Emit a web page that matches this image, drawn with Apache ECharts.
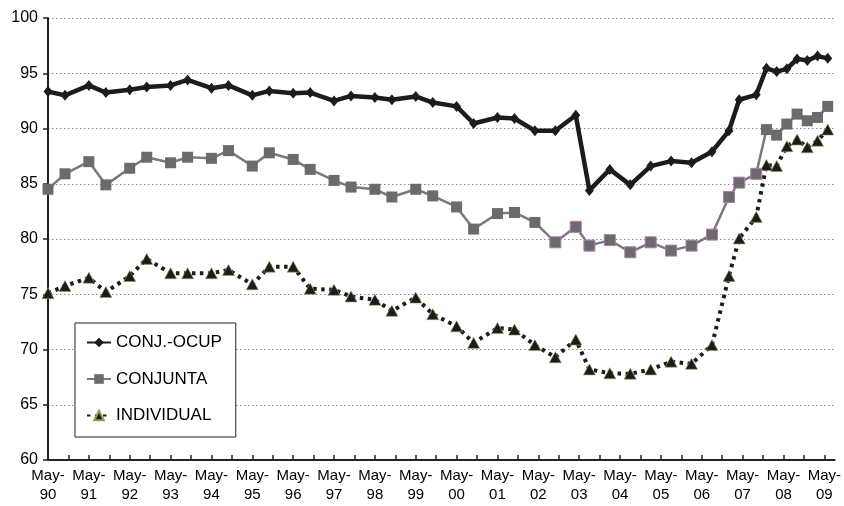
<!DOCTYPE html>
<html>
<head>
<meta charset="utf-8">
<script src="https://cdn.jsdelivr.net/npm/echarts@6/dist/echarts.min.js"></script>
<style>
  html, body { margin: 0; padding: 0; background: #fff; }
  #main { width: 844px; height: 506px; }
</style>
</head>
<body>
<div id="main"></div>
<script>
// observation dates (year-month)
var dates = [
    '1990-05', '1990-10', '1991-05', '1991-10', '1992-05', '1992-10', '1993-05', '1993-10',
    '1994-05', '1994-10', '1995-05', '1995-10', '1996-05', '1996-10', '1997-05', '1997-10',
    '1998-05', '1998-10', '1999-05', '1999-10', '2000-05', '2000-10', '2001-05', '2001-10',
    '2002-04', '2002-10', '2003-04', '2003-08', '2004-02', '2004-08', '2005-02', '2005-08',
    '2006-02', '2006-08', '2007-01', '2007-04', '2007-09', '2007-12', '2008-03', '2008-06',
    '2008-09', '2008-12', '2009-03', '2009-06'
];

var conjOcup = [
    93.35, 93.0, 93.9, 93.25, 93.5, 93.75, 93.9, 94.4, 93.65, 93.9, 93.0, 93.4, 93.2, 93.25,
    92.5, 92.95, 92.8, 92.6, 92.9, 92.35, 92.0, 90.45, 91.0, 90.9, 89.8, 89.8, 91.2, 84.4,
    86.3, 84.9, 86.6, 87.05, 86.9, 87.9, 89.8, 92.6, 93.05, 95.45, 95.15, 95.4, 96.3, 96.15,
    96.55, 96.35
];

var conjunta = [
    84.5, 85.9, 87.0, 84.9, 86.4, 87.4, 86.9, 87.4, 87.3, 88.0, 86.6, 87.8, 87.2, 86.3,
    85.3, 84.7, 84.5, 83.8, 84.5, 83.9, 82.9, 80.9, 82.3, 82.4, 81.5, 79.7, 81.1, 79.4,
    79.9, 78.8, 79.7, 78.95, 79.4, 80.4, 83.8, 85.1, 85.9, 89.9, 89.4, 90.4, 91.3, 90.7,
    91.0, 92.0
];

var individual = [
    75.1, 75.75, 76.5, 75.2, 76.65, 78.2, 76.9, 76.9, 76.9, 77.2, 75.9, 77.5, 77.5, 75.5,
    75.4, 74.8, 74.5, 73.5, 74.7, 73.2, 72.1, 70.6, 71.95, 71.8, 70.4, 69.3, 70.9, 68.2,
    67.85, 67.8, 68.2, 68.9, 68.7, 70.4, 76.65, 80.05, 82.0, 86.7, 86.6, 88.4, 89.0, 88.3,
    88.9, 89.9
];

var seriesNames = ['CONJ.-OCUP', 'CONJUNTA', 'INDIVIDUAL'];

// months elapsed since May 1990
function monthIndex(d) {
    var p = d.split('-');
    return (parseInt(p[0], 10) - 1990) * 12 + parseInt(p[1], 10) - 5;
}

function pairs(values) {
    return values.map(function (v, i) {
        return [monthIndex(dates[i]), v];
    });
}

var font = "'Liberation Sans', Arial, sans-serif";

// squares drawn with a purple edge in the original, 2002-10 .. 2007-09
var conjuntaData = pairs(conjunta).map(function (p, i) {
    if (i >= 25 && i <= 36) {
        return { value: p, itemStyle: { borderColor: '#b277b8', borderWidth: 1 } };
    }
    return p;
});

var chart = echarts.init(document.getElementById('main'));

chart.setOption({
    backgroundColor: '#fff',
    animation: false,
    textStyle: { fontFamily: font },
    grid: { left: 48, right: 4, top: 18, bottom: 46 },
    legend: {
        orient: 'vertical',
        left: 75,
        top: 323,
        padding: [11, 14, 13, 11],
        itemGap: 19.5,
        itemWidth: 24,
        itemHeight: 12,
        borderColor: '#222',
        borderWidth: 1,
        backgroundColor: '#fff',
        textStyle: { fontSize: 17, color: '#000', fontFamily: font },
        data: seriesNames
    },
    xAxis: {
        type: 'value',
        min: 0,
        max: 231,
        interval: 6,
        axisLine: { lineStyle: { color: '#222', width: 2 } },
        axisTick: { inside: true, length: 5, lineStyle: { color: '#222', width: 1.5 } },
        splitLine: { show: false },
        axisLabel: {
            showMaxLabel: false,
            margin: 6,
            color: '#000',
            fontSize: 15,
            lineHeight: 19,
            fontFamily: font,
            formatter: function (v) {
                if (v % 12 !== 0) return '';
                var yy = (90 + v / 12) % 100;
                return 'May-\n' + (yy < 10 ? '0' + yy : '' + yy);
            }
        }
    },
    yAxis: {
        type: 'value',
        min: 60,
        max: 100,
        interval: 5,
        axisLine: { show: true, lineStyle: { color: '#222', width: 2 } },
        axisTick: { show: true, length: 5, lineStyle: { color: '#222', width: 1.5 } },
        splitLine: { lineStyle: { color: '#888', type: [1.5, 2.5], width: 1 } },
        axisLabel: { margin: 10, color: '#000', fontSize: 16, fontFamily: font }
    },
    series: [
        {
            name: seriesNames[0],
            type: 'line',
            data: pairs(conjOcup),
            symbol: 'diamond',
            symbolSize: [9, 11],
            lineStyle: { color: '#1c1c1c', width: 4.5 },
            itemStyle: { color: '#1c1c1c' },
            z: 4
        },
        {
            name: seriesNames[1],
            type: 'line',
            data: conjuntaData,
            symbol: 'rect',
            symbolSize: 11,
            lineStyle: { color: '#7a7a7a', width: 2.5 },
            itemStyle: { color: '#6b6b6b' },
            z: 3
        },
        {
            name: seriesNames[2],
            type: 'line',
            data: pairs(individual),
            symbol: 'triangle',
            symbolSize: [12, 11],
            lineStyle: { color: '#1c1c1c', width: 4, type: [3.5, 4.5] },
            itemStyle: { color: '#1c1c1c', borderColor: '#a09a50', borderWidth: 0.6 },
            z: 2
        }
    ]
});
</script>
</body>
</html>
